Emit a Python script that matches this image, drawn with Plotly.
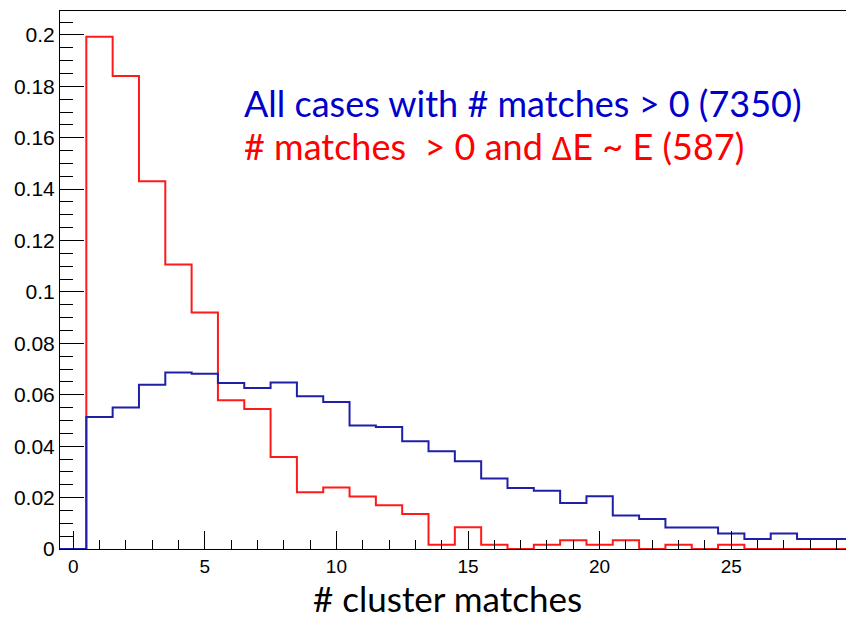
import plotly.graph_objects as go

# Bin centers (# cluster matches)
bin_centers = list(range(0, 30))

# Normalised histogram: all cases with # matches > 0 (7350 entries)
all_cases = [0.0, 0.0514, 0.0550, 0.0639, 0.0687, 0.0682, 0.0646, 0.0626, 0.0648, 0.0594,
             0.0572, 0.0480, 0.0475, 0.0419, 0.0380, 0.0341, 0.0274, 0.0237, 0.0227, 0.0179,
             0.0205, 0.0130, 0.0117, 0.0084, 0.0084, 0.0060, 0.0039, 0.0060, 0.0039, 0.0039]

# Normalised histogram: # matches > 0 and dE ~ E (587 entries)
de_cases = [0.0, 0.1993, 0.1840, 0.1431, 0.1107, 0.0920, 0.0579, 0.0545, 0.0358, 0.0221,
            0.0239, 0.0204, 0.0170, 0.0136, 0.0017, 0.0085, 0.0017, 0.0, 0.0017, 0.0034,
            0.0017, 0.0034, 0.0, 0.0017, 0.0, 0.0017, 0.0, 0.0, 0.0, 0.0]

y_tick_vals = [0, 0.02, 0.04, 0.06, 0.08, 0.1, 0.12, 0.14, 0.16, 0.18, 0.2]
y_tick_text = ["0", "0.02", "0.04", "0.06", "0.08", "0.1", "0.12", "0.14", "0.16", "0.18", "0.2"]
x_tick_vals = [0, 5, 10, 15, 20, 25]
x_tick_text = ["0", "5", "10", "15", "20", "25"]

legend_all = "All cases with # matches > 0 (7350)"
legend_de = "# matches \u00a0> 0 and \u2206E ~ E (587)"
x_title = "# cluster matches"


def step_xy(centers, values):
    edges = [c - 0.5 for c in centers] + [centers[-1] + 0.5]
    return edges, list(values) + [values[-1]]


fig = go.Figure()
xr, yr = step_xy(bin_centers, de_cases)
fig.add_trace(go.Scatter(x=xr, y=yr, mode="lines", line=dict(shape="hv", color="#ff1a1a", width=2),
                         showlegend=False, hoverinfo="skip"))
xb, yb = step_xy(bin_centers, all_cases)
fig.add_trace(go.Scatter(x=xb, y=yb, mode="lines", line=dict(shape="hv", color="#1f1fa8", width=2),
                         showlegend=False, hoverinfo="skip"))

y_tick_font = dict(family="Liberation Sans, Arial, sans-serif", size=21, color="black")
x_tick_font = dict(family="Liberation Sans, Arial, sans-serif", size=19, color="black")
text_font = "Lato, Carlito, Calibri, sans-serif"

fig.update_layout(
    width=846, height=618,
    margin=dict(l=60, r=0, t=11, b=69),
    paper_bgcolor="white", plot_bgcolor="white",
    xaxis=dict(range=[-0.5, 29.36], tickvals=x_tick_vals, ticktext=x_tick_text,
               ticks="inside", ticklen=18, tickwidth=1, tickcolor="black",
               minor=dict(dtick=1, ticks="inside", ticklen=9, tickwidth=1, tickcolor="black"),
               showline=True, linecolor="black", linewidth=1, mirror=True,
               showgrid=False, zeroline=False, tickfont=x_tick_font, layer="above traces"),
    yaxis=dict(range=[0, 0.2093], tickvals=y_tick_vals, ticktext=y_tick_text,
               ticks="inside", ticklen=24, tickwidth=1, tickcolor="black",
               minor=dict(dtick=0.005, tick0=0, ticks="inside", ticklen=13, tickwidth=1, tickcolor="black"),
               showline=True, linecolor="black", linewidth=1, mirror=True,
               showgrid=False, zeroline=False, tickfont=y_tick_font, layer="above traces"),
    annotations=[
        dict(text=legend_all, xref="paper", yref="paper", x=(242 - 60) / 786, y=(549 - 103) / 538,
             xanchor="left", yanchor="middle", showarrow=False,
             font=dict(family=text_font, size=36, color="#0000cc")),
        dict(text=legend_de, xref="paper", yref="paper", x=(242 - 60) / 786, y=(549 - 146) / 538,
             xanchor="left", yanchor="middle", showarrow=False,
             font=dict(family=text_font, size=36, color="#ff0000")),
        dict(text=x_title, xref="paper", yref="paper", x=(447.5 - 60) / 786, y=(549 - 598) / 538,
             xanchor="center", yanchor="middle", showarrow=False,
             font=dict(family=text_font, size=35, color="black")),
    ],
)

fig.write_html("out.html")
